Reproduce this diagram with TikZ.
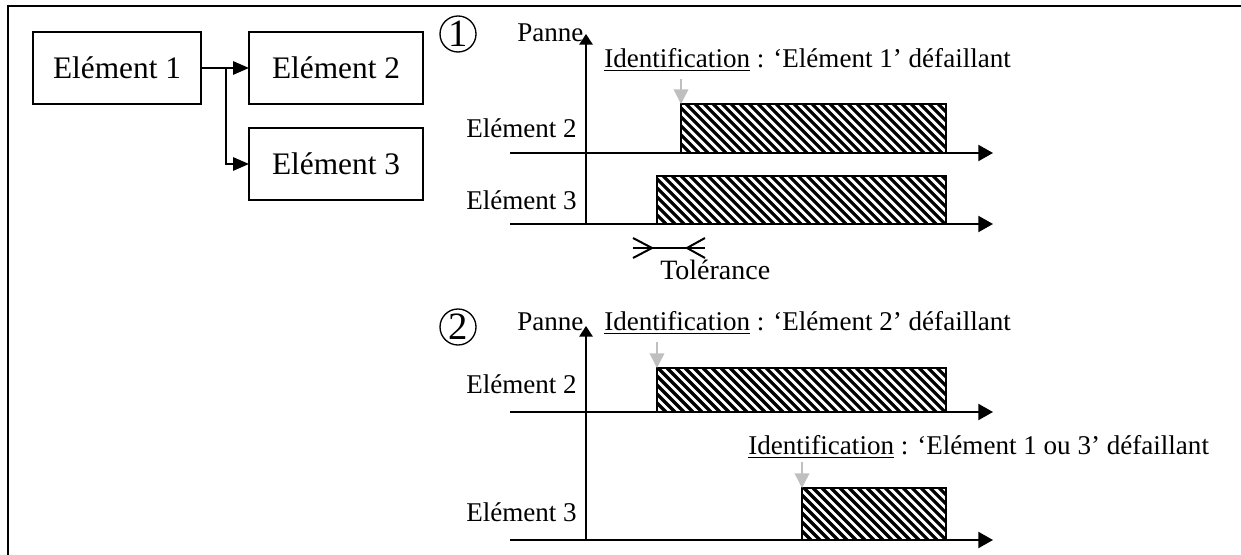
\documentclass[tikz,border=0pt]{standalone}
\usepackage{fontspec}
\setmainfont{Liberation Serif}
\usetikzlibrary{arrows.meta}
\newcommand\hatchfill[4]{%
  \begin{scope}
    \clip (#1,#2) rectangle (#3,#4);
    \pgfmathsetmacro\hh{#4-#2}%
    \pgfmathsetmacro\xs{#1-\hh}%
    \pgfmathsetmacro\xn{\xs+9}%
    \foreach \xx in {\xs,\xn,...,#3} \draw[line width=2.4pt] (\xx,#2) -- ++(\hh,\hh);
  \end{scope}}
\begin{document}
\begin{tikzpicture}[x=0.75pt,y=-0.75pt,
  elbox/.style={draw,line width=1.1pt,minimum height=54pt,inner sep=0pt,outer sep=0pt,font=\fontsize{23.5}{28}\selectfont},
  conn/.style={line width=1.5pt,-{Triangle[length=12pt,width=10pt]}},
  lbl/.style={inner sep=0pt,font=\fontsize{20.3}{24}\selectfont},
  num/.style={draw,circle,line width=1pt,minimum size=27pt,inner sep=0pt,font=\fontsize{29}{32}\selectfont},
  axisv/.style={line width=1.5pt,-{Triangle[length=8pt,width=10pt]}},
  axish/.style={line width=1.5pt,-{Triangle[length=11pt,width=12pt]}},
  hbox/.style={draw,line width=1.3pt,inner sep=0pt,outer sep=0pt,anchor=south west},
  grayarr/.style={draw=black!25,line width=1.1pt,-{Triangle[length=11pt,width=11pt]},black!25},
  tol/.style={line width=1.5pt}]
\useasboundingbox (0,0) rectangle (1241,555);
% frame
\draw[line width=1.5pt] (1241,6) -- (8,6) -- (8,555);

% block diagram
\node[elbox,minimum width=126pt] (e1) at (117,68) {Elément 1};
\node[elbox,minimum width=130.5pt] (e2) at (336,68) {Elément 2};
\node[elbox,minimum width=130.5pt] (e3) at (336,164) {Elément 3};
\coordinate (br) at (226,68);
\draw[conn] (e1.east) -- (e2.west);
\draw[conn] (br) |- (e3.west);

% ---------- chart 1 ----------
\node[num] (n1) at (458,34) {1};
\node[lbl,anchor=base west] (p1) at (517,42) {Panne};
\coordinate (o1) at (586,224);
\coordinate (t1) at (586,34);
\draw[axisv] (o1) -- (t1);
\node[lbl,anchor=base west] (id1) at (604,68) {\underline{Identification} : ‘Elément 1’ défaillant};
% Element 2 row
\node[lbl,anchor=base east] (l12) at (577,138) {Elément 2};
\coordinate (h12s) at (510,153);
\coordinate (h12e) at (993,153);
\hatchfill{681}{104}{946}{153}
\node[hbox,minimum width=198.75pt,minimum height=36.75pt] (r12) at (681,153) {};
\draw[axish] (h12s) -- (h12e);
\coordinate (g12) at (681,79);
\draw[grayarr] (g12) -- (r12.north west);
% Element 3 row
\node[lbl,anchor=base east] (l13) at (577,210) {Elément 3};
\coordinate (h13s) at (510,224);
\coordinate (h13e) at (993,224);
\hatchfill{657}{176}{946}{224}
\node[hbox,minimum width=216.75pt,minimum height=36pt] (r13) at (657,224) {};
\draw[axish] (h13s) -- (h13e);
% tolerance
\coordinate (tl) at (633,248);
\coordinate (tr) at (705,248);
\draw[tol] (tl) -- (tr);
\draw[tol] (633,238) -- (652,248) -- (633,258);
\draw[tol] (705,238) -- (687,248) -- (705,258);
\node[inner sep=0pt,anchor=base west,font=\fontsize{21}{25}\selectfont] (tolt) at (660,280) {Tolérance};

% ---------- chart 2 ----------
\node[num] (n2) at (458,327) {2};
\node[lbl,anchor=base west] (p2) at (517,331) {Panne};
\coordinate (o2) at (586,540);
\coordinate (t2) at (586,326);
\draw[axisv] (o2) -- (t2);
\node[lbl,anchor=base west] (id2) at (604,331) {\underline{Identification} : ‘Elément 2’ défaillant};
% Element 2 row
\node[lbl,anchor=base east] (l22) at (577,394) {Elément 2};
\coordinate (h22s) at (510,412);
\coordinate (h22e) at (993,412);
\hatchfill{657}{368}{946}{412}
\node[hbox,minimum width=216.75pt,minimum height=33pt] (r22) at (657,412) {};
\draw[axish] (h22s) -- (h22e);
\coordinate (g22) at (657,342);
\draw[grayarr] (g22) -- (r22.north west);
% identification 3
\node[lbl,anchor=base west] (id3) at (748,455) {\underline{Identification} : ‘Elément 1 ou 3’ défaillant};
% Element 3 row
\node[lbl,anchor=base east] (l23) at (577,521) {Elément 3};
\coordinate (h23s) at (510,540);
\coordinate (h23e) at (993,540);
\hatchfill{802}{488}{946}{540}
\node[hbox,minimum width=108pt,minimum height=39pt] (r23) at (802,540) {};
\draw[axish] (h23s) -- (h23e);
\coordinate (g23) at (802,462);
\draw[grayarr] (g23) -- (r23.north west);
\end{tikzpicture}
\end{document}
